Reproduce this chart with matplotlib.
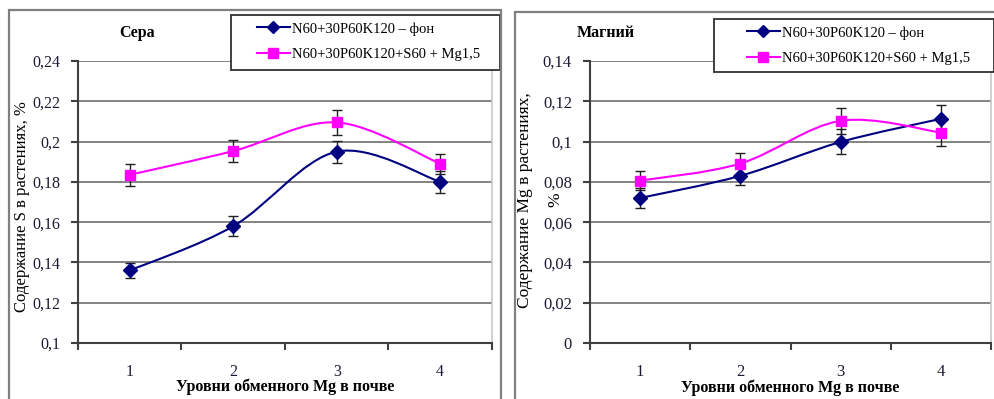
import numpy as np
import matplotlib
matplotlib.use("Agg")
import matplotlib.pyplot as plt
from matplotlib.path import Path
from matplotlib.patches import PathPatch, Rectangle
from matplotlib.lines import Line2D

plt.rcParams['font.family'] = ['Liberation Serif', 'DejaVu Serif']

# ---- data ----
categories = ["1", "2", "3", "4"]
series_labels = ["N60+30P60K120 – фон", "N60+30P60K120+S60 + Mg1,5"]

s_fon = [0.136, 0.158, 0.195, 0.180]
s_fon_err = [0.0035, 0.005, 0.0055, 0.0055]
s_mg = [0.1835, 0.1953, 0.2095, 0.189]
s_mg_err = [0.0055, 0.0055, 0.006, 0.005]

mg_fon = [0.072, 0.083, 0.0998, 0.1113]
mg_fon_err = [0.005, 0.0045, 0.0062, 0.0067]
mg_mg = [0.0806, 0.0891, 0.1103, 0.1045]
mg_mg_err = [0.0048, 0.005, 0.0065, 0.0066]

s_yticks = [0.10, 0.12, 0.14, 0.16, 0.18, 0.20, 0.22, 0.24]
s_yticklabels = ["0,1", "0,12", "0,14", "0,16", "0,18", "0,2", "0,22", "0,24"]
mg_yticks = [0.0, 0.02, 0.04, 0.06, 0.08, 0.10, 0.12, 0.14]
mg_yticklabels = ["0", "0,02", "0,04", "0,06", "0,08", "0,1", "0,12", "0,14"]

titles = ["Сера", "Магний"]
xlabel = "Уровни обменного Mg в почве"
ylabels = [["Содержание S в растениях, %"], ["Содержание Mg в растениях,", "%"]]

NAVY = "#000080"
MAGENTA = "#FF00FF"

W, H = 995, 399
fig = plt.figure(figsize=(W / 100, H / 100), dpi=100)


def fx(px):
    return px / W


def fy(py):
    return 1 - py / H


def smooth_curve(ax, xs, ys, color):
    pts = np.column_stack([xs, ys]).astype(float)
    n = len(pts)
    verts = [pts[0]]
    codes = [Path.MOVETO]
    for i in range(n - 1):
        p0 = pts[i - 1] if i > 0 else pts[i]
        p3 = pts[i + 2] if i + 2 < n else pts[i + 1]
        c1 = pts[i] + (pts[i + 1] - p0) / 6.0
        c2 = pts[i + 1] - (p3 - pts[i]) / 6.0
        verts += [c1, c2, pts[i + 1]]
        codes += [Path.CURVE4] * 3
    ax.add_patch(PathPatch(Path(verts, codes), facecolor="none",
                           edgecolor=color, lw=1.5, zorder=3))


def panel(rect_px, ylim, yticks, yticklabels, fon, fon_err, mg, mg_err,
          title, title_px, ylabel_lines, ylabel_pxs, yl_fs, tick_fs,
          legend_box, legend_anchor, frame_px, xlabel_y):
    x0, y0, x1, y1 = rect_px
    ax = fig.add_axes([fx(x0), fy(y1), fx(x1 - x0), (y1 - y0) / H])
    xs = np.arange(1, len(categories) + 1)
    ax.set_xlim(0.5, len(categories) + 0.5)
    ax.set_ylim(*ylim)
    ax.set_yticks(yticks)
    ax.set_yticklabels(yticklabels, fontsize=tick_fs, color="#1a1a33")
    ax.set_xticks(np.arange(0.5, len(categories) + 1, 1.0))
    ax.set_xticklabels([])
    ax.set_xticks(xs, minor=True)
    ax.set_xticklabels(categories, minor=True, fontsize=tick_fs, color="#1a1a33")
    ax.tick_params(axis="x", which="minor", length=0, pad=15)
    ax.tick_params(axis="x", which="major", length=5, width=1.5, color="#404040")
    ax.tick_params(axis="y", length=5, width=1.5, color="#404040", pad=8)
    ax.grid(axis="y", color="#7a7a7a", lw=1.3)
    ax.set_axisbelow(True)
    ax.spines["top"].set_visible(False)
    ax.spines["right"].set_color("#c8c8c8")
    ax.spines["right"].set_linewidth(1.2)
    ax.spines["left"].set_color("#404040")
    ax.spines["left"].set_linewidth(1.5)
    ax.spines["bottom"].set_color("#404040")
    ax.spines["bottom"].set_linewidth(1.5)

    smooth_curve(ax, xs, fon, NAVY)
    smooth_curve(ax, xs, mg, MAGENTA)
    ax.errorbar(xs, fon, yerr=fon_err, fmt="none", ecolor="#202020",
                elinewidth=1.0, capsize=3.5, capthick=1.0, zorder=4)
    ax.errorbar(xs, mg, yerr=mg_err, fmt="none", ecolor="#202020",
                elinewidth=1.0, capsize=3.5, capthick=1.0, zorder=4)
    ax.plot(xs, fon, ls="none", marker="D", ms=7, color=NAVY, zorder=5)
    ax.plot(xs, mg, ls="none", marker="s", ms=7.5, color=MAGENTA, zorder=5)

    fig.text(fx((x0 + x1) / 2), fy(xlabel_y), xlabel, fontsize=11.5,
             fontweight="bold", ha="center", va="center")

    fig.text(fx(title_px[0]), fy(title_px[1]), title, fontsize=11.5,
             fontweight="bold", ha="center", va="center")
    for line, (lx, ly) in zip(ylabel_lines, ylabel_pxs):
        fig.text(fx(lx), fy(ly), line, fontsize=yl_fs,
                 rotation=90, ha="center", va="center")

    # legend frame (drawn in the axes so the legend sits on top of it)
    bx0, by0, bx1, by1 = legend_box
    ax.add_patch(Rectangle((fx(bx0), fy(by1)), fx(bx1 - bx0), (by1 - by0) / H,
                           transform=fig.transFigure, facecolor="white",
                           edgecolor="#303030", lw=1.3, zorder=9, clip_on=False))
    handles = [Line2D([], [], color=NAVY, lw=1.5, marker="D", ms=6),
               Line2D([], [], color=MAGENTA, lw=1.5, marker="s", ms=6.5)]
    leg = ax.legend(handles, series_labels, loc="upper left",
                    bbox_to_anchor=(fx(legend_anchor[0]), fy(legend_anchor[1])),
                    bbox_transform=fig.transFigure, fontsize=10.5,
                    frameon=False, numpoints=1,
                    handlelength=2.25, handletextpad=0.15, labelspacing=0.85,
                    borderpad=0, borderaxespad=0)
    leg.set_zorder(10)

    fx0, fy0, fx1, fy1 = frame_px
    fig.patches.append(Rectangle((fx(fx0), fy(fy1)), fx(fx1 - fx0), (fy1 - fy0) / H,
                                 transform=fig.transFigure, fill=False,
                                 edgecolor="#808080", lw=1.6, zorder=0))
    return ax


panel((78, 61, 492, 343), (0.1, 0.24), s_yticks, s_yticklabels,
      s_fon, s_fon_err, s_mg, s_mg_err,
      titles[0], (137, 33), ylabels[0], [(22, 207)], 12, 11.5,
      (231, 15, 500, 70), (257, 22), (9, 10, 501, 410), 387)

panel((590, 61, 991, 343), (0.0, 0.14), mg_yticks, mg_yticklabels,
      mg_fon, mg_fon_err, mg_mg, mg_mg_err,
      titles[1], (606, 33), ylabels[1], [(525, 200), (555, 200)], 12.5, 12,
      (714, 19, 994, 72), (747, 26), (515, 12, 1010, 410), 388)

fig.savefig("out.png", dpi=100)
